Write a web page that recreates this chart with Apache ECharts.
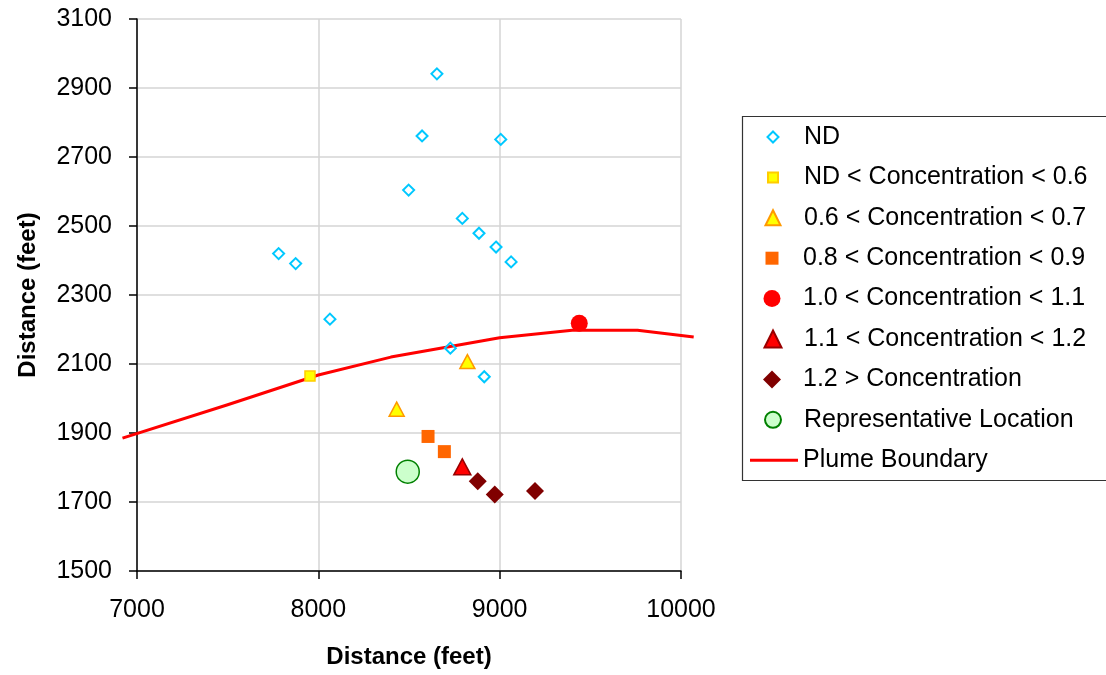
<!DOCTYPE html>
<html>
<head>
<meta charset="utf-8">
<script src="https://cdn.jsdelivr.net/npm/echarts@6/dist/echarts.min.js"></script>
<style>html,body{margin:0;padding:0;background:#fff;}#c{width:1106px;height:675px;}</style>
</head>
<body>
<div id="c"></div>
<script>
// ---- data (x = distance ft, y = distance ft) ----
const xTicks = [7000, 8000, 9000, 10000];
const yTicks = [1500, 1700, 1900, 2100, 2300, 2500, 2700, 2900, 3100];

const ndPoints = [
  [8654, 2941], [8572, 2761], [9006, 2751], [8498, 2604], [8794, 2522],
  [8886, 2479], [8980, 2439], [9063, 2396], [7781, 2420], [7875, 2391],
  [8064, 2230], [8728, 2146], [8915, 2063]
];
const conc06Points = [[7954, 2065]];
const conc07Points = [[8822, 2107], [8432, 1969]];
const conc09Points = [[8605, 1890], [8695, 1846]];
const conc11Points = [[9439, 2218]];
const conc12Points = [[8794, 1802]];
const concHighPoints = [[8879, 1760], [8973, 1722], [9195, 1732]];
const repLocation = [[8493, 1788]];
const plumeBoundary = [
  [6920, 1885], [7500, 1982], [8000, 2068], [8400, 2120], [8720, 2150],
  [9000, 2176], [9400, 2198], [9760, 2198], [10070, 2178]
];

const names = [
  'ND',
  'ND < Concentration < 0.6',
  '0.6 < Concentration < 0.7',
  '0.8 < Concentration < 0.9',
  '1.0 < Concentration < 1.1',
  '1.1 < Concentration < 1.2',
  '1.2 > Concentration',
  'Representative Location',
  'Plume Boundary'
];

const FONT = "'Liberation Sans', Arial, Helvetica, sans-serif";
const FS = 25;
const chart = echarts.init(document.getElementById('c'), null, {renderer: 'canvas'});

function scatter(name, data, symbol, size, style) {
  style.opacity = 1;
  return {
    name: name, type: 'scatter', data: data, symbol: symbol, symbolSize: size,
    itemStyle: style, z: 3, emphasis: {disabled: true}, clip: false
  };
}

const series = [
  {
    name: names[8], type: 'custom', data: plumeBoundary, clip: false, z: 2,
    encode: {x: 0, y: 1},
    itemStyle: {color: '#FF0000'},
    renderItem: function (params, api) {
      if (params.dataIndex !== 0) return null;
      const pts = plumeBoundary.map(function (p) { return api.coord(p); });
      return {
        type: 'polyline', shape: {points: pts},
        style: {stroke: '#FF0000', lineWidth: 3, fill: null, lineJoin: 'round'}
      };
    }
  },
  scatter(names[0], ndPoints, 'diamond', 11, {color: 'rgba(255,255,255,0)', borderColor: '#00C8FF', borderWidth: 2}),
  scatter(names[1], conc06Points, 'rect', 10, {color: '#FFFF00', borderColor: '#FFCC00', borderWidth: 1.5}),
  scatter(names[2], conc07Points, 'triangle', [15, 14], {color: '#FFFF00', borderColor: '#FF9900', borderWidth: 1.5}),
  scatter(names[3], conc09Points, 'rect', 13, {color: '#FF6600'}),
  scatter(names[4], conc11Points, 'circle', 17, {color: '#FF0000'}),
  scatter(names[5], conc12Points, 'triangle', [17, 16], {color: '#FF0000', borderColor: '#990000', borderWidth: 1.5}),
  scatter(names[6], concHighPoints, 'diamond', 18, {color: '#800000'}),
  scatter(names[7], repLocation, 'circle', 23, {color: '#CCFFCC', borderColor: '#008000', borderWidth: 1.5})
];

// legend: one component per row so each icon keeps its own size
const legendIcons = ['diamond', 'rect', 'triangle', 'rect', 'circle', 'triangle', 'diamond', 'circle'];
const legendSizes = [11, 10, 15, 13, 17, 17, 18, 16];
const legends = names.map(function (name, k) {
  const center = 137 + 40.4 * k;
  const base = {
    show: true, orient: 'vertical', top: center - 13,
    padding: 0, itemGap: 0, selectedMode: false
  };
  if (k < 8) {
    const s = legendSizes[k];
    base.left = 772 - s / 2;
    base.itemWidth = s;
    base.itemHeight = s;
    base.textStyle = {fontFamily: FONT, fontSize: FS, lineHeight: 26, color: '#000', padding: [0, 0, 0, 26 - s / 2]};
    base.data = [{name: name, icon: legendIcons[k]}];
  } else {
    base.left = 750;
    base.itemWidth = 48;
    base.itemHeight = 3;
    base.textStyle = {fontFamily: FONT, fontSize: FS, lineHeight: 26, color: '#000'};
    base.data = [{name: name, icon: 'rect', itemStyle: {color: '#FF0000', borderWidth: 0}}];
  }
  return base;
});

function plain(v) { return String(v); }

chart.setOption({
  animation: false,
  backgroundColor: '#fff',
  grid: {left: 137, right: 425, top: 19, bottom: 104, containLabel: false},
  xAxis: {
    type: 'value', min: xTicks[0], max: xTicks[xTicks.length - 1], interval: 1000,
    name: 'Distance (feet)', nameLocation: 'middle', nameGap: 74,
    nameTextStyle: {fontFamily: FONT, fontSize: 24, fontWeight: 'bold', color: '#000'},
    axisLine: {onZero: false, lineStyle: {color: '#000', width: 1.5}},
    axisTick: {show: true, inside: false, length: 8, lineStyle: {color: '#000', width: 1.5}},
    axisLabel: {fontFamily: FONT, fontSize: FS, color: '#000', margin: 27, formatter: plain},
    splitLine: {show: true, lineStyle: {color: '#D4D4D4', width: 1.5}}
  },
  yAxis: {
    type: 'value', min: yTicks[0], max: yTicks[yTicks.length - 1], interval: 200,
    name: 'Distance (feet)', nameLocation: 'middle', nameGap: 97,
    nameTextStyle: {fontFamily: FONT, fontSize: 24, fontWeight: 'bold', color: '#000'},
    axisLine: {onZero: false, lineStyle: {color: '#000', width: 1.5}},
    axisTick: {show: true, inside: false, length: 8, lineStyle: {color: '#000', width: 1.5}},
    axisLabel: {fontFamily: FONT, fontSize: FS, color: '#000', margin: 25, formatter: plain},
    splitLine: {show: true, lineStyle: {color: '#D4D4D4', width: 1.5}}
  },
  legend: legends,
  graphic: [{
    type: 'rect', left: 740, top: 114, z: 0,
    shape: {width: 420, height: 364},
    style: {fill: 'none', stroke: '#333', lineWidth: 1.2}
  }],
  series: series
});
</script>
</body>
</html>
